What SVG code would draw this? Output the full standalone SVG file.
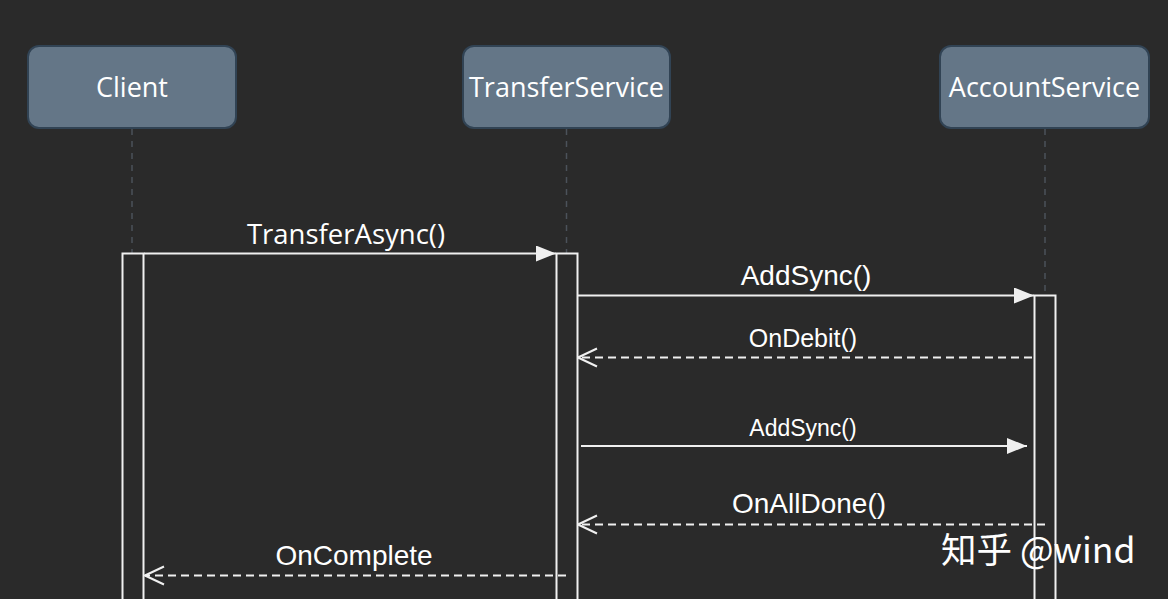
<svg xmlns="http://www.w3.org/2000/svg" width="1168" height="599" viewBox="0 0 1168 599">
<defs>
<style>
.node rect{fill:#647687;stroke:#314354;stroke-width:2}
.node text{fill:#ffffff;font-family:"Open Sans","Noto Sans",sans-serif;font-size:27px;text-anchor:middle}
.life{stroke:#4b525a;stroke-width:1.5;stroke-dasharray:6 6;fill:none}
.bar{fill:#2a2a2a;stroke:#f0f0f0;stroke-width:2}
.msg{stroke:#f0f0f0;stroke-width:2;fill:none}
.ret{stroke:#f0f0f0;stroke-width:2;fill:none;stroke-dasharray:8 5}
.lbl{fill:#ffffff;font-family:"Liberation Sans",Arial,sans-serif;text-anchor:middle}
.lbl2{fill:#ffffff;font-family:"Open Sans","Noto Sans",sans-serif;text-anchor:middle}
</style>
<marker id="filled" viewBox="0 0 20 16" refX="20" refY="8" markerWidth="20" markerHeight="16" markerUnits="userSpaceOnUse" orient="auto">
<path d="M0,0 L20,8 L0,16 Z" fill="#f0f0f0"/>
</marker>
<marker id="open" viewBox="0 0 22 22" refX="21" refY="11" markerWidth="22" markerHeight="22" markerUnits="userSpaceOnUse" orient="auto">
<path d="M2,2 L21,11 L2,20" fill="none" stroke="#f0f0f0" stroke-width="2"/>
</marker>
</defs>
<rect x="0" y="0" width="1168" height="599" fill="#2a2a2a"/>

<g id="lifelines">
<line class="life" x1="132" y1="129" x2="132" y2="253"/>
<line class="life" x1="566.5" y1="129" x2="566.5" y2="253"/>
<line class="life" x1="1045" y1="129" x2="1045" y2="295"/>
</g>

<g id="node-client" class="node">
<rect x="28" y="46" width="208" height="82" rx="11"/>
<text x="132" y="97">Client</text>
</g>
<g id="node-transfer" class="node">
<rect x="463" y="46" width="207" height="82" rx="11"/>
<text x="566.5" y="97">TransferService</text>
</g>
<g id="node-account" class="node">
<rect x="940" y="46" width="209" height="82" rx="11"/>
<text x="1044.5" y="97">AccountService</text>
</g>

<g id="activations">
<rect class="bar" x="122.5" y="253.5" width="21" height="360"/>
<rect class="bar" x="556.5" y="253.5" width="21" height="360"/>
<rect class="bar" x="1034.5" y="295.5" width="21" height="320"/>
</g>

<g id="connectors">
<line class="msg" x1="144" y1="253.5" x2="556" y2="253.5" marker-end="url(#filled)"/>
<line class="msg" x1="578" y1="295.5" x2="1034" y2="295.5" marker-end="url(#filled)"/>
<line class="ret" x1="1032" y1="357.5" x2="578" y2="357.5" marker-end="url(#open)"/>
<line class="msg" x1="581" y1="446" x2="1027" y2="446" stroke-width="2.5" marker-end="url(#filled)"/>
<line class="ret" x1="1045" y1="524.5" x2="578" y2="524.5" marker-end="url(#open)"/>
<line class="ret" x1="566" y1="575.5" x2="145" y2="575.5" marker-end="url(#open)"/>
</g>

<g id="labels">
<text class="lbl2" x="346" y="244" font-size="27.5">TransferAsync()</text>
<text class="lbl" x="806" y="285" font-size="28">AddSync()</text>
<text class="lbl" x="803" y="347" font-size="25">OnDebit()</text>
<text class="lbl" x="803" y="436" font-size="23">AddSync()</text>
<text class="lbl" x="809" y="513" font-size="28">OnAllDone()</text>
<text class="lbl" x="354" y="565" font-size="28">OnComplete</text>
</g>

<text x="941" y="563" fill="#ffffff" font-family="'Noto Sans CJK SC','Noto Sans',sans-serif" font-size="35.5">知乎 @wind</text>
</svg>
